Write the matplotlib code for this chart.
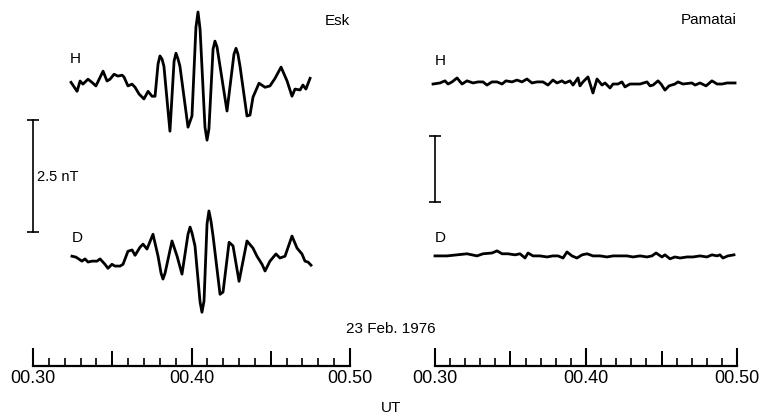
import matplotlib
matplotlib.use("Agg")
import matplotlib.pyplot as plt
from matplotlib.ticker import MultipleLocator, FixedLocator, NullFormatter

plt.rcParams['font.family'] = ['Liberation Sans', 'DejaVu Sans']

# --- data: time in minutes after 00h UT, field in nT ---
esk_h_t = [32.40, 32.78, 32.97, 33.15, 33.47, 33.72, 33.97, 34.42, 34.67, 34.86,
           35.11, 35.36, 35.62, 35.74, 35.99, 36.25, 36.44, 36.69, 37.00, 37.26,
           37.51, 37.70, 37.89, 38.01, 38.14, 38.26, 38.64, 38.90, 39.02, 39.15,
           39.27, 39.78, 40.03, 40.28, 40.41, 40.54, 40.85, 40.98, 41.10, 41.36,
           41.48, 41.61, 41.80, 42.24, 42.68, 42.81, 42.93, 43.06, 43.50, 43.69,
           43.88, 44.26, 44.64, 44.95, 45.27, 45.65, 46.03, 46.34, 46.53, 46.85,
           47.03, 47.22, 47.48]
esk_h = [0.04, -0.16, 0.07, 0.00, 0.11, 0.04, -0.04, 0.29, 0.07, 0.11,
         0.22, 0.18, 0.20, 0.16, -0.04, 0.00, -0.07, -0.22, -0.33, -0.16,
         -0.27, -0.27, 0.45, 0.63, 0.56, 0.40, -1.05, 0.51, 0.69, 0.56,
         0.40, -0.96, -0.71, 1.27, 1.61, 1.23, -0.96, -1.25, -1.00, 0.78,
         0.96, 0.83, 0.40, -0.60, 0.67, 0.80, 0.67, 0.40, -0.71, -0.69,
         -0.29, 0.02, -0.07, -0.04, 0.13, 0.38, 0.07, -0.27, -0.11, -0.13,
         -0.02, -0.11, 0.13]

esk_d_t = [32.46, 32.71, 33.09, 33.28, 33.47, 33.72, 34.04, 34.23, 34.54, 34.73,
           34.98, 35.17, 35.49, 35.68, 35.99, 36.25, 36.44, 36.75, 36.94, 37.19,
           37.57, 37.89, 38.08, 38.20, 38.33, 38.77, 39.09, 39.40, 39.78, 39.91,
           40.03, 40.22, 40.54, 40.66, 40.79, 40.98, 41.10, 41.23, 41.36, 41.80,
           41.99, 42.37, 42.62, 43.00, 43.50, 43.88, 44.13, 44.45, 44.64, 44.95,
           45.33, 45.58, 45.90, 46.34, 46.66, 46.97, 47.16, 47.35, 47.54]
esk_d = [0.02, 0.00, -0.09, -0.04, -0.11, -0.09, -0.09, -0.04, -0.16, -0.25,
         -0.16, -0.20, -0.20, -0.16, 0.13, 0.16, 0.04, 0.22, 0.29, 0.18,
         0.51, 0.02, -0.36, -0.49, -0.36, 0.36, 0.02, -0.38, 0.51, 0.67,
         0.54, 0.25, -1.00, -1.23, -0.98, 0.74, 1.03, 0.80, 0.47, -0.83,
         -0.78, 0.33, 0.25, -0.54, 0.36, 0.20, 0.02, -0.16, -0.31, -0.09,
         0.07, -0.02, 0.02, 0.47, 0.20, 0.07, -0.09, -0.11, -0.18]

pam_h_t = [29.87, 30.33, 30.66, 30.86, 31.13, 31.46, 31.79, 32.12, 32.52, 32.85,
           33.18, 33.44, 33.77, 34.11, 34.44, 34.70, 35.10, 35.43, 35.76, 36.09,
           36.42, 36.75, 37.15, 37.48, 37.81, 38.08, 38.41, 38.61, 38.94, 39.14,
           39.47, 39.60, 39.80, 40.13, 40.46, 40.73, 41.06, 41.26, 41.59, 41.79,
           42.12, 42.38, 42.58, 42.91, 43.58, 44.04, 44.24, 44.44, 44.77, 44.97,
           45.23, 45.50, 45.89, 46.09, 46.42, 47.02, 47.22, 47.55, 47.95, 48.34,
           48.68, 49.01, 49.34, 49.74, 49.87]
pam_h = [-0.04, 0.00, 0.08, -0.04, 0.04, 0.19, -0.04, 0.08, 0.00, 0.04,
         0.04, -0.08, 0.04, 0.04, -0.04, 0.08, 0.04, 0.11, 0.04, 0.15,
         0.00, 0.04, 0.04, -0.08, 0.11, 0.00, 0.08, 0.00, 0.08, -0.08,
         0.19, -0.11, 0.04, 0.23, -0.38, 0.15, -0.08, 0.00, -0.19, -0.04,
         -0.04, 0.04, -0.15, -0.04, -0.04, 0.04, -0.11, -0.08, 0.08, -0.04,
         -0.27, -0.11, -0.04, 0.04, -0.04, 0.00, -0.08, 0.00, -0.11, 0.08,
         -0.04, -0.04, 0.00, 0.00, 0.00]

pam_d_t = [30.00, 30.79, 31.46, 32.12, 32.78, 33.18, 33.77, 34.11, 34.44, 34.83,
           35.30, 35.63, 35.96, 36.16, 36.49, 36.95, 37.42, 37.81, 38.15, 38.48,
           38.74, 39.07, 39.40, 39.74, 40.07, 40.46, 40.93, 41.39, 41.79, 42.25,
           42.72, 43.11, 43.58, 44.04, 44.37, 44.64, 45.03, 45.23, 45.56, 45.89,
           46.23, 46.69, 47.09, 47.55, 48.01, 48.34, 48.68, 48.87, 49.07, 49.40,
           49.80]
pam_d = [0.00, 0.00, 0.04, 0.08, 0.00, 0.08, 0.11, 0.19, 0.08, 0.08,
         0.04, 0.08, -0.08, 0.11, 0.00, 0.00, -0.04, 0.00, 0.00, -0.08,
         0.15, 0.00, -0.08, 0.04, 0.08, 0.00, 0.00, -0.04, 0.00, 0.00,
         0.00, -0.04, 0.00, -0.04, 0.00, 0.11, -0.04, 0.04, -0.11, -0.04,
         -0.08, -0.04, -0.04, 0.00, -0.04, 0.04, 0.00, 0.04, -0.08, 0.00,
         0.04]

scale_nt = 2.5
tick_labels = ['00.30', '00.40', '00.50']
date_label = '23 Feb. 1976'

fig = plt.figure(figsize=(7.6, 4.14), dpi=100)
W, H = 760, 414

def px(x, y):
    return x / W, 1 - y / H

# panel setup: (station, left px, width px, ylim nT, H offset, D offset, bar bottom)
panels = [
    ('Esk', 33, 317, 8.19, 6.29, 2.43, 2.99, esk_h_t, esk_h, esk_d_t, esk_d),
    ('Pamatai', 435, 302, 13.90, 10.72, 4.17, 6.21, pam_h_t, pam_h, pam_d_t, pam_d),
]

for name, left, width, ytop, off_h, off_d, bar0, ht, hv, dt, dv in panels:
    ax = fig.add_axes([left / W, 47 / H, width / W, 367 / H])
    ax.set_xlim(30, 50)
    ax.set_ylim(0, ytop)
    for s in ['top', 'left', 'right']:
        ax.spines[s].set_visible(False)
    ax.spines['bottom'].set_linewidth(1.6)
    ax.yaxis.set_visible(False)

    ax.plot(ht, [v + off_h for v in hv], color='black', lw=2.0, clip_on=False,
            solid_joinstyle='round')
    ax.plot(dt, [v + off_d for v in dv], color='black', lw=2.0, clip_on=False,
            solid_joinstyle='round')

    # scale bar
    ax.plot([30, 30], [bar0, bar0 + scale_nt], color='black', lw=1.2,
            marker='_', ms=9, mew=1.2, clip_on=False)

    ax.xaxis.set_major_locator(FixedLocator([30, 40, 50]))
    ax.set_xticklabels(tick_labels)
    ax.xaxis.set_minor_locator(MultipleLocator(1))
    ax.tick_params(axis='x', which='major', direction='in', length=13, width=1.5,
                   pad=2, labelsize=13)
    ax.tick_params(axis='x', which='minor', direction='in', length=5.8, width=1.2)
    sec = ax.secondary_xaxis('bottom')
    sec.spines['bottom'].set_visible(False)
    sec.xaxis.set_major_locator(FixedLocator([35, 45]))
    sec.xaxis.set_major_formatter(NullFormatter())
    sec.tick_params(axis='x', which='major', direction='in', length=11, width=1.4)
    sec.tick_params(axis='x', which='minor', length=0)

fig.text(*px(350, 25), 'Esk', ha='right', va='baseline', fontsize=11)
fig.text(*px(737, 24), 'Pamatai', ha='right', va='baseline', fontsize=11)
fig.text(*px(70, 63), 'H', ha='left', va='baseline', fontsize=11)
fig.text(*px(72, 242), 'D', ha='left', va='baseline', fontsize=11)
fig.text(*px(435, 65), 'H', ha='left', va='baseline', fontsize=11)
fig.text(*px(435, 242), 'D', ha='left', va='baseline', fontsize=11)
fig.text(*px(37, 177), '2.5 nT', ha='left', va='center', fontsize=10.5)
fig.text(*px(391, 333), date_label, ha='center', va='baseline', fontsize=11)
fig.text(*px(391, 408), 'UT', ha='center', va='center', fontsize=11)

fig.savefig('out.png', dpi=100)
